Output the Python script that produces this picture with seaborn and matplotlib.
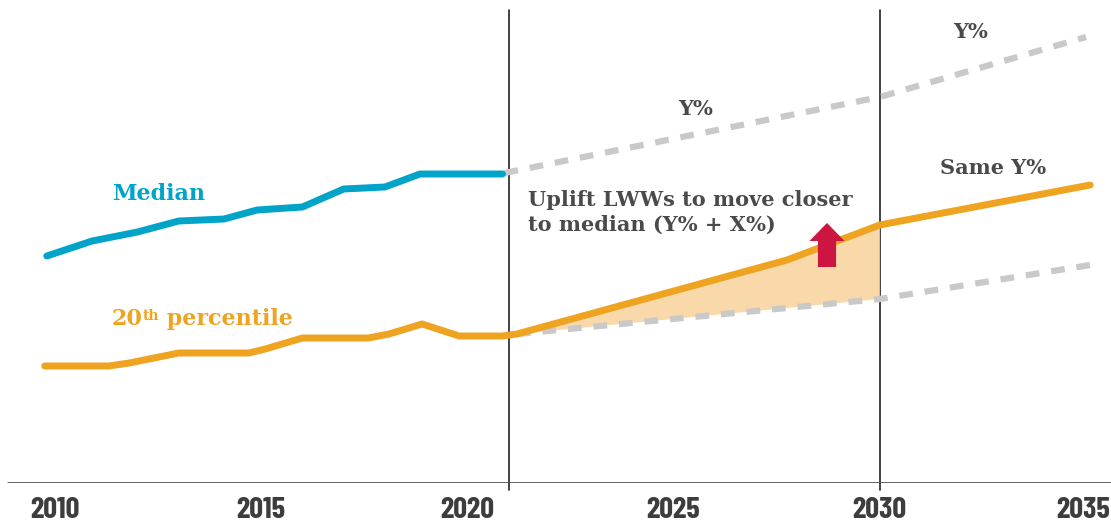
import matplotlib
matplotlib.use("Agg")
import matplotlib.pyplot as plt
import matplotlib.transforms as mtransforms
import numpy as np
import pandas as pd
import seaborn as sns

# historical series (years, index value)
median_years = [2009.8, 2010.9, 2012.0, 2013.0, 2014.1, 2014.9, 2016.0, 2017.0, 2018.0, 2018.85, 2020.85]
median_vals = [22.7, 24.2, 25.1, 26.2, 26.4, 27.3, 27.6, 29.4, 29.6, 30.9, 30.9]

p20_years = [2009.75, 2011.3, 2011.8, 2013.0, 2014.7, 2015.1, 2016.0, 2017.6, 2018.1, 2018.9, 2019.8, 2020.85, 2021.2]
p20_vals = [11.7, 11.7, 12.0, 13.0, 13.0, 13.4, 14.5, 14.5, 14.9, 15.9, 14.7, 14.7, 14.9]

# projections
uplift_years = [2021.2, 2027.75, 2030.0, 2035.1]
uplift_vals = [14.9, 22.3, 25.8, 29.8]

median_proj_years = [2020.9, 2030.0, 2035.0]
median_proj_vals = [31.0, 38.6, 44.6]

p20_proj_years = [2021.2, 2030.0, 2035.1]
p20_proj_vals = [14.9, 18.4, 21.8]

tick_years = [2010, 2015, 2020, 2025, 2030, 2035]
marker_years = [2021, 2030]

BLUE = "#00a4c8"
ORANGE = "#eea321"
GREY = "#c9c9c9"
FILL = "#f9d9a9"
RED = "#cc1541"
TEXT = "#4a4a4a"
SLAB = ['DejaVu Serif']
NARROW = ['Barlow Condensed', 'DejaVu Sans']

sns.set_style("white")
plt.rcParams['font.family'] = SLAB

fig = plt.figure(figsize=(11.11, 5.22), dpi=100)
ax = fig.add_axes([0, 39 / 522, 1, 483 / 522])

# dashed projections
sns.lineplot(x=median_proj_years, y=median_proj_vals, ax=ax, color=GREY, lw=4.5,
             linestyle=(0, (2.2, 1.9)), dash_capstyle="butt")
sns.lineplot(x=p20_proj_years, y=p20_proj_vals, ax=ax, color=GREY, lw=4.5,
             linestyle=(0, (2.2, 1.9)), dash_capstyle="butt")

# shaded gap between uplift and same-growth path
poly_x = uplift_years[:3] + p20_proj_years[1::-1]
poly_y = uplift_vals[:3] + p20_proj_vals[1::-1]
ax.fill(poly_x, poly_y, color=FILL, lw=0, zorder=1)

# solid lines
sns.lineplot(x=median_years, y=median_vals, ax=ax, color=BLUE, lw=5, sort=False)
orange = pd.DataFrame({"year": p20_years + uplift_years[1:], "val": p20_vals + uplift_vals[1:]})
sns.lineplot(data=orange, x="year", y="val", ax=ax, color=ORANGE, lw=5, sort=False)

# baseline and period markers
ax.axhline(0, xmin=8 / 1111, color="#555555", lw=2, zorder=3)
for yr in marker_years:
    ax.axvline(yr, ymin=-7 / 483, ymax=0.979, color="#222222", lw=1.2, clip_on=False, zorder=0)

# red arrow
ax.arrow(2028.72, 21.6, 0, 2.6, width=0.44, head_width=0.85, head_length=1.8,
         length_includes_head=False, color=RED, lw=0, zorder=5)

# labels
ax.text(2011.38, 28.3, "Median", color=BLUE, fontsize=16, fontweight="bold", va="baseline")
t20 = ax.text(2011.38, 15.8, "20", color=ORANGE, fontsize=16, fontweight="bold", va="baseline")
tth = ax.annotate("th", xy=(1.0, 0.95), xycoords=t20, color=ORANGE, fontsize=10,
                  fontweight="bold", va="top", ha="left")
ax.annotate(" percentile", xy=(1.0, 15.8), xycoords=(tth, "data"), color=ORANGE,
            fontsize=16, fontweight="bold", va="baseline", ha="left")

ax.text(2025.54, 36.8, "Y%", color=TEXT, fontsize=15, fontweight="bold", ha="center", va="baseline")
ax.text(2032.21, 44.5, "Y%", color=TEXT, fontsize=15, fontweight="bold", ha="center", va="baseline")
ax.text(2032.74, 30.9, "Same Y%", color=TEXT, fontsize=15, fontweight="bold", ha="center", va="baseline")
ax.text(2021.47, 29.3, "Uplift LWWs to move closer\nto median (Y% + X%)", color=TEXT,
        fontsize=15, fontweight="bold", ha="left", va="top", linespacing=1.3)

ax.set_xlim(2010 - 55 / 41.24, 2010 + 1056 / 41.24)
ax.set_ylim(0, 48.3)
ax.set_xticks(tick_years)
ax.set_xticklabels([str(t) for t in tick_years], family=NARROW, fontstretch="condensed",
                   fontweight="bold", fontsize=22, color="#3d3d3d")
ax.tick_params(axis="x", length=0, pad=10)
# last label sits right on the edge; nudge it in a touch
last = ax.get_xticklabels()[-1]
last.set_transform(last.get_transform() + mtransforms.ScaledTranslation(-3 / 100, 0, fig.dpi_scale_trans))
ax.set_yticks([])
ax.set_xlabel("")
ax.set_ylabel("")
for s in ax.spines.values():
    s.set_visible(False)

fig.savefig("out.png", dpi=100)
